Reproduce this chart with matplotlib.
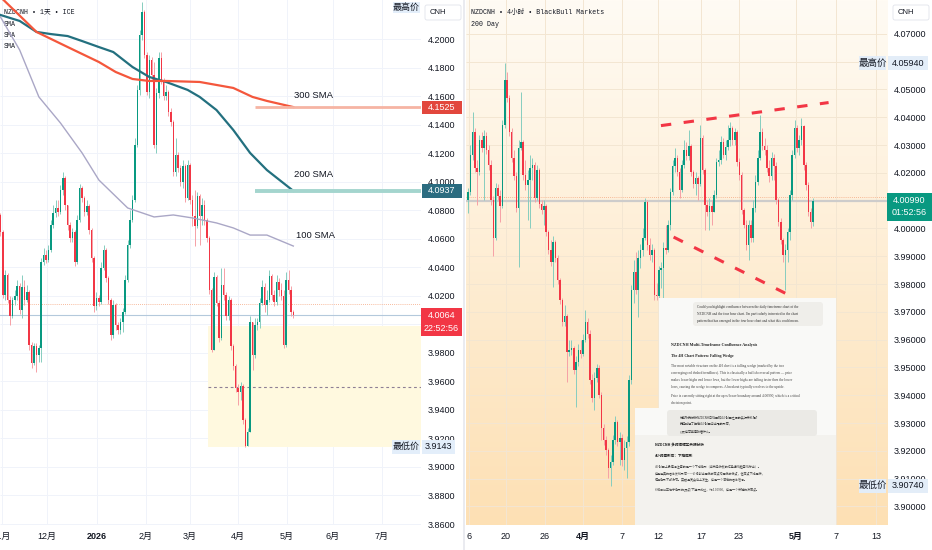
import numpy as np
import matplotlib
matplotlib.use('Agg')
import matplotlib.pyplot as plt
from matplotlib import font_manager
from matplotlib.patches import Rectangle, FancyBboxPatch

installed = {f.name for f in font_manager.fontManager.ttflist}
NARROW = 'Liberation Sans Narrow' if 'Liberation Sans Narrow' in installed else 'Liberation Sans'
plt.rcParams['font.family'] = [NARROW, 'Noto Sans CJK SC', 'DejaVu Sans']
MONO = ['Liberation Mono', 'Noto Sans CJK SC']
CJK = ['Noto Sans CJK SC', 'DejaVu Sans']
SERIF = ['Liberation Serif', 'DejaVu Serif']

GREEN = '#089981'
RED = '#f23645'
INK = '#131722'

# ---------------- daily chart (left) ----------------
day_open0 = 4.0768
day_close = [4.0649, 4.0207, 4.0347, 4.0172, 4.0059, 4.0172, 4.0200, 4.0270, 4.0101, 4.0263,
             4.0172, 4.0228, 3.9856, 3.9730, 3.9849, 3.9786, 3.9835, 4.0438, 4.0487, 4.0452,
             4.0522, 4.0698, 4.0782, 4.0817, 4.0789, 4.0943, 4.1027, 4.0838, 4.0698, 4.0606,
             4.0649, 4.0438, 4.0733, 4.0957, 4.0887, 4.0789, 4.0831, 4.0663, 4.0466, 4.0129,
             4.0186, 4.0158, 4.0396, 4.0522, 4.0326, 4.0172, 3.9926, 4.0136, 3.9996, 3.9961,
             4.0017, 4.0087, 4.0312, 4.0557, 4.0733, 4.0873, 4.1259, 4.1645, 4.2030, 4.2192,
             4.1890, 4.1631, 4.1855, 4.1750, 4.1259, 4.1624, 4.1869, 4.1715, 4.1603, 4.1631,
             4.1490, 4.1420, 4.1069, 4.1189, 4.1097, 4.0999, 4.1112, 4.0887, 4.1119, 4.0873,
             4.0761, 4.0691, 4.0901, 4.0761, 4.0838, 4.0733, 4.0606, 4.0242, 3.9821, 4.0333,
             4.0150, 3.9905, 4.0277, 4.0207, 4.0059, 4.0172, 3.9849, 3.9709, 3.9554, 3.9526,
             3.9568, 3.9330, 3.9147, 3.9246, 4.0017, 3.9786, 3.9996, 4.0017, 4.0150, 4.0263,
             4.0136, 4.0172, 4.0340, 4.0207, 4.0158, 4.0298, 4.0242, 4.0200, 3.9856, 4.0312,
             4.0242, 4.0087, 4.0064]
day_high = [4.0782, 4.0663, 4.0382, 4.0361, 4.0200, 4.0193, 4.0242, 4.0312, 4.0291, 4.0347,
            4.0312, 4.0277, 4.0242, 3.9877, 3.9870, 3.9870, 3.9856, 4.0466, 4.0536, 4.0522,
            4.0557, 4.0733, 4.0838, 4.0873, 4.0873, 4.0978, 4.1069, 4.1041, 4.0838, 4.0719,
            4.0677, 4.0663, 4.0768, 4.0985, 4.0971, 4.0901, 4.0873, 4.0845, 4.0677, 4.0480,
            4.0228, 4.0207, 4.0438, 4.0557, 4.0536, 4.0340, 4.0186, 4.0172, 4.0150, 4.0017,
            4.0045, 4.0115, 4.0347, 4.0592, 4.0803, 4.0908, 4.1308, 4.1680, 4.2066, 4.2262,
            4.2206, 4.1911, 4.1890, 4.1876, 4.1841, 4.1659, 4.1911, 4.1911, 4.1729, 4.1680,
            4.1645, 4.1518, 4.1434, 4.1308, 4.1210, 4.1119, 4.1154, 4.1126, 4.1154, 4.1133,
            4.0908, 4.0943, 4.0929, 4.0915, 4.0887, 4.0873, 4.0747, 4.0620, 4.0256, 4.0368,
            4.0347, 4.0172, 4.0396, 4.0396, 4.0228, 4.0200, 4.0186, 3.9863, 3.9723, 3.9582,
            3.9596, 3.9582, 3.9344, 3.9274, 4.0059, 4.0017, 4.0045, 4.0045, 4.0186, 4.0312,
            4.0291, 4.0242, 4.0382, 4.0354, 4.0242, 4.0347, 4.0326, 4.0291, 4.0242, 4.0368,
            4.0382, 4.0270, 4.0101]
day_low = [4.0620, 4.0186, 4.0172, 4.0150, 3.9996, 4.0045, 4.0136, 4.0172, 4.0073, 4.0045,
           4.0136, 4.0158, 3.9821, 3.9695, 3.9716, 3.9666, 3.9737, 3.9737, 4.0417, 4.0431,
           4.0438, 4.0508, 4.0677, 4.0754, 4.0761, 4.0775, 4.0908, 4.0803, 4.0663, 4.0578,
           4.0578, 4.0410, 4.0424, 4.0719, 4.0859, 4.0761, 4.0768, 4.0635, 4.0438, 4.0087,
           4.0101, 4.0129, 4.0143, 4.0382, 4.0298, 4.0143, 3.9891, 3.9905, 3.9961, 3.9933,
           3.9933, 3.9947, 4.0073, 4.0298, 4.0536, 4.0719, 4.0859, 4.1245, 4.1610, 4.1995,
           4.1869, 4.1610, 4.1589, 4.1715, 4.1238, 4.1203, 4.1589, 4.1687, 4.1575, 4.1575,
           4.1462, 4.1392, 4.1041, 4.1041, 4.1069, 4.0971, 4.0957, 4.0859, 4.0873, 4.0845,
           4.0691, 4.0550, 4.0677, 4.0557, 4.0698, 4.0698, 4.0578, 4.0214, 3.9807, 3.9821,
           4.0129, 3.9877, 3.9891, 4.0172, 4.0031, 4.0031, 3.9821, 3.9680, 3.9526, 3.9435,
           3.9470, 3.9302, 3.9143, 3.9145, 3.9246, 3.9680, 3.9765, 3.9961, 3.9975, 4.0136,
           4.0087, 4.0066, 4.0158, 4.0172, 4.0129, 4.0136, 4.0200, 4.0172, 3.9835, 3.9842,
           4.0214, 4.0059, 4.0045]

sma300_at = [0, 15, 28, 41, 48, 55, 62, 69, 83, 90, 97, 105, 111, 122]
sma300 = [4.2297, 4.2052, 4.1946, 4.1841, 4.1771, 4.1722, 4.1708, 4.1708, 4.1701, 4.1680,
          4.1659, 4.1596, 4.1568, 4.1525]
sma200_at = [0, 8, 15, 21, 28, 34, 41, 47, 55, 62, 69, 78, 83, 90, 97, 104, 111, 122]
sma200 = [4.2171, 4.2129, 4.2052, 4.2037, 4.2023, 4.1988, 4.1946, 4.1911, 4.1806, 4.1736,
          4.1701, 4.1645, 4.1596, 4.1504, 4.1364, 4.1203, 4.1083, 4.0937]
sma100_at = [0, 8, 16, 25, 34, 41, 53, 64, 72, 80, 90, 97, 104, 111, 122]
sma100 = [4.2157, 4.1925, 4.1596, 4.1413, 4.1203, 4.1013, 4.0817, 4.0754, 4.0768, 4.0747,
          4.0712, 4.0677, 4.0627, 4.0627, 4.0550]

day_ticks_at = [0.6, 19.4, 40.2, 60.6, 79.0, 99.0, 119.4, 138.5, 158.9]
day_ticks = ['11月', '12月', '2026', '2月', '3月', '4月', '5月', '6月', '7月']
# 4.00 is left out: the live-price tag covers it
day_prices = [3.86, 3.88, 3.90, 3.92, 3.94, 3.96, 3.98, 4.02, 4.04, 4.06, 4.08,
              4.10, 4.12, 4.14, 4.16, 4.18, 4.20]
day_grid = [3.86, 3.88, 3.90, 3.92, 3.94, 3.96, 3.98, 4.00, 4.02, 4.04, 4.06, 4.08,
            4.10, 4.12, 4.14, 4.16, 4.18, 4.20]
day_zone = (86.5, 3.9140, 3.9989)   # start bar, low, high of highlighted range
day_last = 4.0064
day_prev = 4.0143
day_hi_lo = (4.2262, 3.9143)

# ---------------- 4h chart (right) ----------------
h4_open0 = 4.0103
h4_close = [4.0132, 4.0265, 4.0348, 4.0218, 4.0204, 4.0319, 4.0290, 4.0333, 4.0283, 4.0229,
            4.0103, 3.9966, 4.0146, 4.0117, 4.0081, 4.0373, 4.0535, 4.0470, 4.0348, 4.0254,
            4.0189, 4.0074, 4.0290, 4.0312, 4.0193, 4.0157, 4.0175, 4.0218, 4.0229, 4.0110,
            4.0211, 4.0089, 4.0067, 4.0081, 3.9988, 3.9923, 3.9880, 3.9952, 3.9894, 3.9815,
            3.9743, 3.9664, 3.9685, 3.9556, 3.9563, 3.9570, 3.9491, 3.9520, 3.9563, 3.9549,
            3.9599, 3.9664, 3.9621, 3.9455, 3.9390, 3.9462, 3.9498, 3.9401, 3.9282, 3.9239,
            3.9203, 3.9138, 3.9160, 3.9239, 3.9304, 3.9232, 3.9246, 3.9167, 3.9210, 3.9232,
            3.9455, 3.9779, 3.9844, 3.9779, 3.9894, 3.9923, 3.9966, 4.0096, 3.9941, 3.9905,
            3.9923, 3.9761, 3.9757, 3.9851, 3.9858, 3.9930, 3.9923, 4.0013, 4.0132, 4.0225,
            4.0254, 4.0204, 4.0139, 4.0229, 4.0283, 4.0261, 4.0297, 4.0204, 4.0161, 4.0182,
            4.0161, 4.0326, 4.0211, 4.0085, 4.0060, 4.0081, 4.0060, 4.0121, 4.0240, 4.0247,
            4.0312, 4.0265, 4.0294, 4.0319, 4.0362, 4.0319, 4.0348, 4.0240, 4.0193, 4.0067,
            4.0013, 3.9941, 4.0013, 3.9966, 4.0074, 4.0168, 4.0254, 4.0348, 4.0297, 4.0283,
            4.0218, 4.0189, 4.0254, 4.0225, 4.0103, 4.0024, 3.9959, 3.9905, 3.9923, 3.9988,
            4.0121, 4.0265, 4.0362, 4.0290, 4.0319, 4.0369, 4.0229, 4.0157, 4.0060, 4.0024,
            4.0099]
h4_high = [4.0146, 4.0301, 4.0420, 4.0362, 4.0247, 4.0337, 4.0348, 4.0355, 4.0348, 4.0301,
           4.0247, 4.0117, 4.0164, 4.0161, 4.0139, 4.0391, 4.0594, 4.0564, 4.0481, 4.0362,
           4.0283, 4.0204, 4.0319, 4.0492, 4.0319, 4.0247, 4.0211, 4.0265, 4.0254, 4.0240,
           4.0229, 4.0218, 4.0103, 4.0103, 4.0089, 3.9995, 3.9959, 3.9973, 3.9959, 3.9905,
           3.9822, 3.9750, 3.9725, 3.9693, 3.9599, 3.9599, 3.9577, 3.9541, 3.9585, 3.9599,
           3.9621, 3.9707, 3.9678, 3.9635, 3.9477, 3.9484, 3.9513, 3.9509, 3.9412, 3.9297,
           3.9253, 3.9210, 3.9185, 3.9257, 3.9325, 3.9311, 3.9268, 3.9261, 3.9239, 3.9253,
           3.9473, 3.9797, 3.9887, 3.9916, 3.9923, 3.9945, 4.0002, 4.0110, 4.0103, 3.9966,
           3.9945, 3.9930, 3.9804, 3.9865, 3.9880, 3.9952, 4.0013, 4.0031, 4.0146, 4.0247,
           4.0290, 4.0265, 4.0218, 4.0247, 4.0319, 4.0312, 4.0355, 4.0305, 4.0211, 4.0204,
           4.0189, 4.0373, 4.0337, 4.0218, 4.0103, 4.0110, 4.0103, 4.0139, 4.0254, 4.0283,
           4.0333, 4.0326, 4.0319, 4.0373, 4.0384, 4.0369, 4.0362, 4.0355, 4.0254, 4.0204,
           4.0074, 4.0031, 4.0031, 4.0031, 4.0103, 4.0193, 4.0283, 4.0409, 4.0362, 4.0326,
           4.0301, 4.0247, 4.0276, 4.0269, 4.0240, 4.0110, 4.0038, 3.9966, 3.9945, 4.0002,
           4.0139, 4.0283, 4.0391, 4.0373, 4.0337, 4.0398, 4.0373, 4.0240, 4.0168, 4.0074,
           4.0110]
h4_low = [4.0056, 4.0121, 4.0247, 4.0204, 4.0085, 4.0193, 4.0276, 4.0103, 4.0269, 4.0211,
          4.0085, 3.9901, 3.9959, 4.0103, 4.0024, 4.0074, 4.0362, 4.0456, 4.0333, 4.0240,
          4.0175, 4.0060, 3.9862, 4.0283, 4.0175, 4.0139, 4.0031, 4.0002, 4.0175, 4.0096,
          4.0103, 4.0074, 4.0053, 4.0013, 3.9973, 3.9909, 3.9865, 3.9790, 3.9880, 3.9801,
          3.9729, 3.9649, 3.9650, 3.9448, 3.9541, 3.9545, 3.9477, 3.9358, 3.9505, 3.9534,
          3.9541, 3.9592, 3.9606, 3.9441, 3.9376, 3.9347, 3.9448, 3.9390, 3.9239, 3.9221,
          3.9185, 3.9102, 3.9074, 3.9149, 3.9225, 3.9217, 3.9149, 3.9145, 3.9131, 3.9102,
          3.9217, 3.9441, 3.9732, 3.9765, 3.9682, 3.9858, 3.9901, 3.9959, 3.9923, 3.9887,
          3.9880, 3.9743, 3.9743, 3.9538, 3.9786, 3.9743, 3.9909, 3.9916, 3.9995, 4.0121,
          4.0204, 4.0189, 4.0110, 4.0132, 4.0218, 4.0247, 4.0247, 4.0189, 4.0146, 4.0121,
          4.0103, 4.0153, 4.0197, 3.9995, 4.0045, 3.9995, 4.0013, 4.0060, 4.0110, 4.0225,
          4.0233, 4.0254, 4.0247, 4.0283, 4.0297, 4.0301, 4.0301, 4.0225, 4.0175, 4.0053,
          4.0002, 3.9923, 3.9887, 3.9952, 3.9952, 4.0060, 4.0157, 4.0247, 4.0283, 4.0265,
          4.0204, 4.0168, 4.0175, 4.0175, 4.0089, 4.0009, 3.9945, 3.9880, 3.9779, 3.9880,
          3.9959, 4.0103, 4.0254, 4.0276, 4.0265, 4.0301, 4.0211, 4.0139, 4.0045, 4.0002,
          4.0010]

wedge_top = ([83.9, 156.8], [4.0370, 4.0453])
wedge_bottom = ([89.4, 139.4], [3.9969, 3.9761])

h4_ticks_at = [0.4, 16.5, 33.5, 50.0, 67.0, 82.6, 101.3, 117.8, 142.6, 160.0, 177.4]
h4_ticks = ['6', '20', '26', '4月', '7', '12', '17', '23', '5月', '7', '13']
# 4.01 and 4.06 are left out: the price tags cover them
h4_prices = [3.90, 3.91, 3.92, 3.93, 3.94, 3.95, 3.96, 3.97, 3.98, 3.99,
             4.00, 4.02, 4.03, 4.04, 4.05, 4.07]
h4_grid = [3.90, 3.91, 3.92, 3.93, 3.94, 3.95, 3.96, 3.97, 3.98, 3.99,
           4.00, 4.01, 4.02, 4.03, 4.04, 4.05, 4.06, 4.07]
h4_last = 4.0099
h4_prev = 4.0114
h4_hi_lo = (4.0594, 3.9074)


def candles(ax, open0, close, high, low, width, min_body):
    close = np.array(close)
    opn = np.concatenate([[open0], close[:-1]])
    x = np.arange(len(close))
    up = close >= opn
    body_col = np.where(up, GREEN, RED)
    wick_col = np.where(up, '#86cdbf', '#f6a0a6')
    ax.vlines(x, low, high, colors=wick_col, lw=0.7, zorder=3)
    body = np.maximum(np.abs(close - opn), min_body)
    ax.bar(x, body, bottom=np.minimum(opn, close), width=width, color=body_col, lw=0, zorder=4)


def tag(ax, y, h, x0, x1, fc, text, tc='white', fs=6.5, weight='normal'):
    tr = ax.get_yaxis_transform()
    ax.add_patch(Rectangle((x0, y - h / 2), x1 - x0, h, transform=tr, fc=fc, ec='none',
                           clip_on=False, zorder=20))
    ax.text((x0 + x1) / 2, y, text, transform=tr, ha='center', va='center', color=tc,
            fontsize=fs, fontweight=weight, clip_on=False, zorder=21)


def style(ax, xlim, ylim, xt, xl, yt, grid_y, fmt, bold, grid_col):
    ax.set_xlim(*xlim)
    ax.set_ylim(*ylim)
    ax.set_xticks(xt)
    ax.set_xticklabels(xl)
    for lab in ax.get_xticklabels():
        if lab.get_text() in bold:
            lab.set_fontweight('bold')
    ax.set_yticks(yt)
    ax.set_yticklabels([fmt % v for v in yt])
    ax.yaxis.tick_right()
    ax.tick_params(axis='both', length=0, labelsize=6.5, colors=INK)
    ax.tick_params(axis='y', pad=5)
    ax.tick_params(axis='x', pad=5)
    for s in ax.spines.values():
        s.set_visible(False)
    ax.grid(True, axis='x', color=grid_col, lw=0.7)
    ax.hlines(grid_y, xlim[0], xlim[1], colors=grid_col, lw=0.7, zorder=0.5)
    ax.set_axisbelow(True)


fig = plt.figure(figsize=(9.32, 5.5), dpi=100)
fig.patch.set_facecolor('white')

# ---- left panel ----
ax1 = fig.add_axes([0, 25 / 550, 421 / 932, 525 / 550])
xl1 = (-0.2, 175.2)
style(ax1, xl1, (3.8593, 4.2276), day_ticks_at, day_ticks, day_prices, day_grid, '%.4f',
      ['2026'], '#f0f3fa')

z0, zlo, zhi = day_zone
ax1.add_patch(Rectangle((z0, zlo), xl1[1] - z0, zhi - zlo, fc='#fff9df', ec='none', zorder=1))
ax1.hlines((zlo + zhi) / 2, z0, xl1[1], colors='#8e7f95', lw=0.8, linestyles=(0, (2.5, 2.5)), zorder=2)
ax1.axhline(day_prev, color='#f5a57e', lw=0.6, ls=(0, (1, 1.5)), zorder=2)
ax1.axhline(day_last, color='#b4c9dc', lw=0.8, zorder=2)

candles(ax1, day_open0, day_close, day_high, day_low, 0.66, 0.0006)

ax1.plot(sma100_at, sma100, color='#aaa7c6', lw=1.0, zorder=5)
ax1.plot(sma200_at, sma200, color='#23707f', lw=1.6, zorder=5)
ax1.plot(sma300_at, sma300, color='#f4573c', lw=1.6, zorder=5)
ax1.hlines(sma300[-1], 106, xl1[1], colors='#f6b4a3', lw=2, zorder=5)
ax1.hlines(sma200[-1], 106, xl1[1], colors='#a4d5ce', lw=2.8, zorder=5)
for lab, at, val in [('300 SMA', 122.3, 4.1603), ('200 SMA', 122.3, 4.1055), ('100 SMA', 123.0, 4.0627)]:
    ax1.text(at, val, lab, fontsize=6.8, color=INK, va='center', ha='left', zorder=6)

ax1.text(0.01, 0.977, 'NZDCNH • 1天 • ICE', transform=ax1.transAxes, family=MONO,
         fontsize=4.8, color=INK, va='center')
for k in range(3):
    ax1.text(0.01, 0.954 - 0.021 * k, 'SMA', transform=ax1.transAxes, family=MONO,
             fontsize=4.8, color=INK, va='center')

tag(ax1, sma300[-1], 0.0091, 1.002, 1.097, '#e2473d', '%.4f' % sma300[-1])
tag(ax1, sma200[-1], 0.0098, 1.002, 1.097, '#2b6c80', '%.4f' % sma200[-1])
tr1 = ax1.get_yaxis_transform()
ax1.add_patch(Rectangle((1.0, day_last - 0.0145), 0.097, 0.0196, transform=tr1, fc=RED,
                        ec='none', clip_on=False, zorder=20))
ax1.text(1.048, day_last - 0.0002, '%.4f' % day_last, transform=tr1, ha='center', va='center',
         color='white', fontsize=6.5, zorder=21)
ax1.text(1.048, day_last - 0.0095, '22:52:56', transform=tr1, ha='center', va='center',
         color='white', fontsize=6.5, zorder=21)
tag(ax1, 4.2223, 0.0080, 0.933, 0.998, '#e3eefa', '最高价', tc=INK, fs=6.5)
tag(ax1, day_hi_lo[1], 0.0098, 0.931, 0.998, '#e3eefa', '最低价', tc=INK, fs=6.5)
tag(ax1, day_hi_lo[1], 0.0098, 1.002, 1.081, '#e3eefa', '%.4f' % day_hi_lo[1], tc=INK, fs=6.5)

# ---- right panel ----
ax2 = fig.add_axes([466 / 932, 25 / 550, 421 / 932, 525 / 550])
xl2 = (-0.87, 182.2)
yl2 = (3.8933, 4.0822)
top, bottom = np.array([255, 251, 244]) / 255, np.array([253, 224, 180]) / 255
grad = np.linspace(0, 1, 256)[:, None, None] * (top - bottom) + bottom
ax2.imshow(grad, extent=[xl2[0], xl2[1], yl2[0], yl2[1]], origin='lower', aspect='auto', zorder=0)
style(ax2, xl2, yl2, h4_ticks_at, h4_ticks, h4_prices, h4_grid, '%.5f', ['4月', '5月'], '#f3e6d2')

ax2.axhline(h4_prev, color='#f2a77f', lw=0.6, ls=(0, (1, 1.5)), zorder=2)
ax2.axhline(h4_last, color='#cdcccb', lw=1.6, zorder=2)
candles(ax2, h4_open0, h4_close, h4_high, h4_low, 0.66, 0.0003)
ax2.plot(*wedge_top, color=RED, lw=2.2, dashes=(3.4, 4.1), solid_capstyle='butt', zorder=6)
ax2.plot(*wedge_bottom, color=RED, lw=2.2, dashes=(3.4, 4.1), solid_capstyle='butt', zorder=6)

ax2.text(0.012, 0.977, 'NZDCNH • 4小时 • BlackBull Markets', transform=ax2.transAxes, family=MONO,
         fontsize=4.8, color=INK, va='center')
ax2.text(0.012, 0.954, '200 Day', transform=ax2.transAxes, family=MONO,
         fontsize=4.8, color=INK, va='center')

tr2 = ax2.get_yaxis_transform()
ax2.add_patch(Rectangle((1.0, h4_last - 0.0071), 0.107, 0.0101, transform=tr2, fc=GREEN,
                        ec='none', clip_on=False, zorder=20))
ax2.text(1.053, h4_last, '%.5f' % h4_last, transform=tr2, ha='center', va='center',
         color='white', fontsize=6.5, zorder=21)
ax2.text(1.053, h4_last - 0.0043, '01:52:56', transform=tr2, ha='center', va='center',
         color='white', fontsize=6.5, zorder=21)
for v, word in [(h4_hi_lo[0], '最高价'), (h4_hi_lo[1], '最低价')]:
    tag(ax2, v, 0.0050, 0.933, 0.998, '#e3edf8', word, tc=INK, fs=6.8)
    tag(ax2, v, 0.0050, 1.003, 1.097, '#e3edf8', '%.5f' % v, tc=INK, fs=6.5)

# ---- overlay in pixel units: currency boxes, divider, chat screenshot ----
ov = fig.add_axes([0, 0, 1, 1])
ov.set_xlim(0, 932)
ov.set_ylim(550, 0)
ov.axis('off')
ov.patch.set_alpha(0)
ov.axvline(464, color='#e6e8ee', lw=1.2)
for x0 in (425, 893):
    ov.add_patch(FancyBboxPatch((x0, 5), 36, 15, boxstyle='round,pad=0,rounding_size=2',
                                fc='white', ec='#e0e3eb', lw=0.6))
    ov.text(x0 + 5, 12.5, 'CNH', fontsize=5.5, color=INK, va='center', ha='left')

ov.add_patch(Rectangle((659, 298), 177, 110, fc='#f9f9f7', ec='none'))
ov.add_patch(Rectangle((635, 408), 201, 117, fc='#f9f9f7', ec='none'))
ov.add_patch(Rectangle((635, 435), 201, 90, fc='#f3f2ee', ec='none'))
ov.add_patch(FancyBboxPatch((693, 302), 130, 24, boxstyle='round,pad=0,rounding_size=3',
                            fc='#efeeea', ec='none'))
ov.add_patch(FancyBboxPatch((667, 410), 150, 26, boxstyle='round,pad=0,rounding_size=3',
                            fc='#ebeae6', ec='none'))

bubble_en = ['Could you highlight confluence between the daily timeframe chart of the',
             "NZDCNH and the four hour chart. I'm particularly interested in the chart",
             'pattern that has emerged in the four hour chart and what this could mean.']
for k, line in enumerate(bubble_en):
    ov.text(697, 307 + 7 * k, line, family=SERIF, fontsize=2.5, color='#333333', va='center')
ov.text(671, 345, 'NZDCNH Multi-Timeframe Confluence Analysis', family=SERIF, fontsize=3.0,
        fontweight='bold', color='#222222', va='center')
ov.text(671, 356, 'The 4H Chart Pattern: Falling Wedge', family=SERIF, fontsize=2.8,
        fontweight='bold', color='#222222', va='center')
body_en = ['The most notable structure on the 4H chart is a falling wedge (marked by the two',
           'converging red dashed trendlines). This is classically a bullish reversal pattern — price',
           'makes lower highs and lower lows, but the lower highs are falling faster than the lower',
           'lows, causing the wedge to compress. A breakout typically resolves to the upside.']
for k, line in enumerate(body_en):
    ov.text(671, 366 + 7 * k, line, family=SERIF, fontsize=2.5, color='#444444', va='center')
ov.text(671, 396, 'Price is currently sitting right at the apex/lower boundary around 4.00990, which is a critical',
        family=SERIF, fontsize=2.5, color='#444444', va='center')
ov.text(671, 403, 'decision point.', family=SERIF, fontsize=2.5, color='#444444', va='center')

bubble_cn = ['你能帮我分析NZDCNH日线图和4小时图之间的共振关系吗？',
             '我特别想了解在4小时图中出现的形态，',
             '以及这可能意味着什么。']
for k, line in enumerate(bubble_cn):
    ov.text(680, 417 + 7 * k, line, family=CJK, fontsize=2.2, color='#333333', va='center')
ov.text(655, 445, 'NZDCNH 多时间框架共振分析', family=CJK, fontsize=2.6, fontweight='bold',
        color='#222222', va='center')
ov.text(655, 456, '4小时图形态：下降楔形', family=CJK, fontsize=2.6, fontweight='bold',
        color='#222222', va='center')
body_cn = ['4小时图上最值得注意的是一个下降楔形（由两条收敛的红色虚线趋势线标出）。',
           '这是经典的看涨反转形态——价格创出更低的高点和更低的低点，但高点下降更快，',
           '使得楔形不断收窄。突破通常会向上发生，这是一个潜在的看涨信号。']
for k, line in enumerate(body_cn):
    ov.text(655, 466 + 7 * k, line, family=CJK, fontsize=2.2, color='#444444', va='center')
ov.text(655, 490, '价格目前正位于楔形的顶点/下边界附近，约4.00990，这是一个关键的决策点。',
        family=CJK, fontsize=2.2, color='#444444', va='center')

fig.savefig('out.png', dpi=100)
